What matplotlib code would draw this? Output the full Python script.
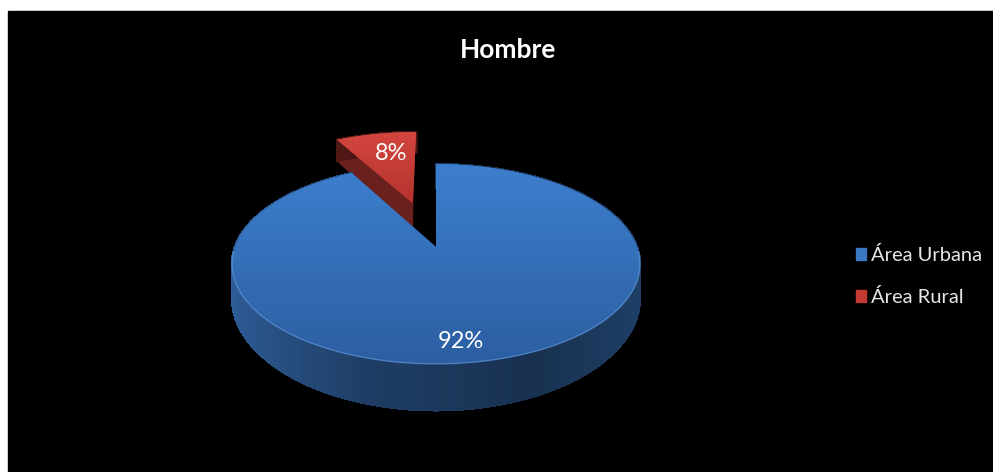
import numpy as np
import matplotlib.pyplot as plt
from matplotlib.patches import Polygon, Rectangle, Patch
from matplotlib.collections import PolyCollection
from matplotlib.colors import LinearSegmentedColormap, to_rgb

plt.rcParams['font.family'] = ['Lato', 'DejaVu Sans']

# data
categories = ['Área Urbana', 'Área Rural']
shares = [92, 8]
explode = [0.0, 0.5]
title = 'Hombre'

# styling
top_colors = [('#3d7fce', '#2c5ea1'), ('#d4463f', '#b3332f')]
side_base = ['#2f5e9a', '#6a201c']
legend_colors = ['#3a78c4', '#c23a32']
label_pos = [(461, 342), (391, 153)]

W, H = 993, 472
CX, CY = 436, 247      # pie centre on screen (px)
A, B = 201, 97         # half axes of the disc before perspective
K = 0.17               # perspective strength
DEPTH = 32             # thickness of the disc


def project(px, py, z=0.0):
    w = 1 - K * np.asarray(py)
    return CX + A * np.asarray(px) / w, CY + B * np.asarray(py) / w + DEPTH * z / w ** 2


def top_outline(t0, t1, ox, oy, n=300):
    th = np.radians(np.linspace(t0, t1, n))
    px = np.r_[ox, np.sin(th) + ox]
    py = np.r_[oy, -np.cos(th) + oy]
    x, y = project(px, py)
    return np.column_stack([x, y])


def side_strips(t0, t1, ox, oy, base, n=300):
    th = np.radians(np.linspace(t0, t1, n))
    px = np.sin(th) + ox
    py = -np.cos(th) + oy
    xt, yt = project(px, py, 0)
    xb, yb = project(px, py, 1)
    quads, cols, keys = [], [], []
    rgb = np.array(to_rgb(base))
    for i in range(n - 1):
        quads.append([(xt[i], yt[i]), (xt[i + 1], yt[i + 1]),
                      (xb[i + 1], yb[i + 1]), (xb[i], yb[i])])
        mx = (np.sin(th[i]) + np.sin(th[i + 1])) / 2
        shade = np.interp(mx, [-1, -0.3, 0.4, 1], [1.0, 0.66, 0.52, 0.68])
        cols.append(np.clip(rgb * shade, 0, 1))
        keys.append(py[i])
    order = np.argsort(keys)
    return [quads[i] for i in order], [cols[i] for i in order]


def radial_face(theta, ox, oy):
    t = np.radians(theta)
    px = np.array([ox, np.sin(t) + ox])
    py = np.array([oy, -np.cos(t) + oy])
    xt, yt = project(px, py, 0)
    xb, yb = project(px, py, 1)
    return [(xt[0], yt[0]), (xt[1], yt[1]), (xb[1], yb[1]), (xb[0], yb[0])]


fig = plt.figure(figsize=(W / 100, H / 100), dpi=100)
fig.patch.set_facecolor('white')
ax = fig.add_axes([0, 0, 1, 1])
ax.set_facecolor('white')
ax.add_patch(Rectangle((8, 11), W - 8, H - 11, color='black', zorder=0))

angles = np.cumsum([0] + [s / sum(shares) * 360 for s in shares])

# draw the exploded slice first, it sits behind the big one
for idx in [1, 0]:
    t0, t1 = angles[idx], angles[idx + 1]
    mid = np.radians((t0 + t1) / 2)
    ox, oy = explode[idx] * np.sin(mid), -explode[idx] * np.cos(mid)
    z = 2 + (1 - idx) * 10

    if explode[idx] > 0:
        face = radial_face(t0, ox, oy)
        ax.add_patch(Polygon(face, closed=True, facecolor=side_base[idx],
                             edgecolor=side_base[idx], lw=0.5, zorder=z))
    quads, cols = side_strips(t0, t1, ox, oy, side_base[idx])
    ax.add_collection(PolyCollection(quads, facecolors=cols, edgecolors=cols,
                                     linewidths=1.0, antialiased=False,
                                     zorder=z + 1))

    pts = top_outline(t0, t1, ox, oy)
    clip = Polygon(pts, closed=True, facecolor=top_colors[idx][1],
                   edgecolor='none', zorder=z + 2)
    ax.add_patch(clip)
    cmap = LinearSegmentedColormap.from_list('g%d' % idx, top_colors[idx])
    grad = np.linspace(0, 1, 256).reshape(-1, 1)
    im = ax.imshow(grad, cmap=cmap, aspect='auto', origin='upper',
                   extent=[pts[:, 0].min(), pts[:, 0].max(),
                           pts[:, 1].max(), pts[:, 1].min()],
                   zorder=z + 3, interpolation='bilinear')
    im.set_clip_path(clip)

    # soft highlight on the front rim
    th = np.radians(np.linspace(t0, t1, 300))
    front = -np.cos(th) + oy > 0.05
    if front.any():
        rx, ry = project(np.sin(th[front]) + ox, -np.cos(th[front]) + oy)
        ax.plot(rx, ry, color='#5a92d6', lw=0.9, alpha=0.8, zorder=z + 4)

    ax.text(*label_pos[idx], f'{shares[idx]}%', color='white', fontsize=17,
            ha='center', va='center', zorder=30)

ax.set_xlim(0, W)
ax.set_ylim(H, 0)
ax.axis('off')

fig.text(508 / W, 1 - 50 / H, title, color='white', fontsize=19,
         fontweight='bold', ha='center', va='center')

handles = [Patch(facecolor=c, edgecolor=c) for c in legend_colors]
leg = ax.legend(handles, categories, loc='center left',
                bbox_to_anchor=(838 / W, 1 - 276 / H), bbox_transform=fig.transFigure,
                frameon=False, fontsize=14.5, handlelength=0.5, handleheight=0.5,
                handletextpad=0.25, labelspacing=1.2)
for t in leg.get_texts():
    t.set_color('#e6e6e6')

fig.savefig('out.png', dpi=100, facecolor='white')
